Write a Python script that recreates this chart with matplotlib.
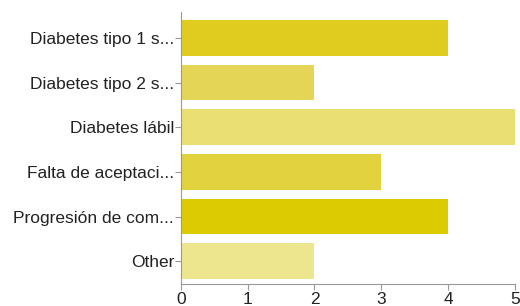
import matplotlib
matplotlib.use("Agg")
import matplotlib.pyplot as plt

categories = ["Diabetes tipo 1 s...", "Diabetes tipo 2 s...", "Diabetes lábil",
              "Falta de aceptaci...", "Progresión de com...", "Other"]
values = [4, 2, 5, 3, 4, 2]
colors = ["#dfcc1f", "#e5d557", "#e9df73", "#e2d23d", "#dccb00", "#ede68f"]

plt.rcParams["font.family"] = ["Liberation Sans", "DejaVu Sans"]

fig = plt.figure(figsize=(5.2, 3.06), dpi=100)
ax = fig.add_axes([0.348, 0.072, 0.642, 0.889])

y = list(range(len(categories)))
ax.barh(y, values, height=0.8, color=colors)

ax.set_yticks(y)
ax.set_yticklabels(categories, fontsize=12.5, color="#222222")
ax.set_ylim(len(categories) - 0.49, -0.58)
ax.set_xlim(0, 5)
ax.set_xticks(range(6))
ax.tick_params(axis="x", labelsize=12.5, colors="#222222", length=4, color="#999999", pad=2)
ax.tick_params(axis="y", length=4, color="#999999", pad=1)

for s in ["top", "right"]:
    ax.spines[s].set_visible(False)
for s in ["left", "bottom"]:
    ax.spines[s].set_color("#999999")
    ax.spines[s].set_linewidth(0.8)

fig.savefig("out.png", dpi=100)
